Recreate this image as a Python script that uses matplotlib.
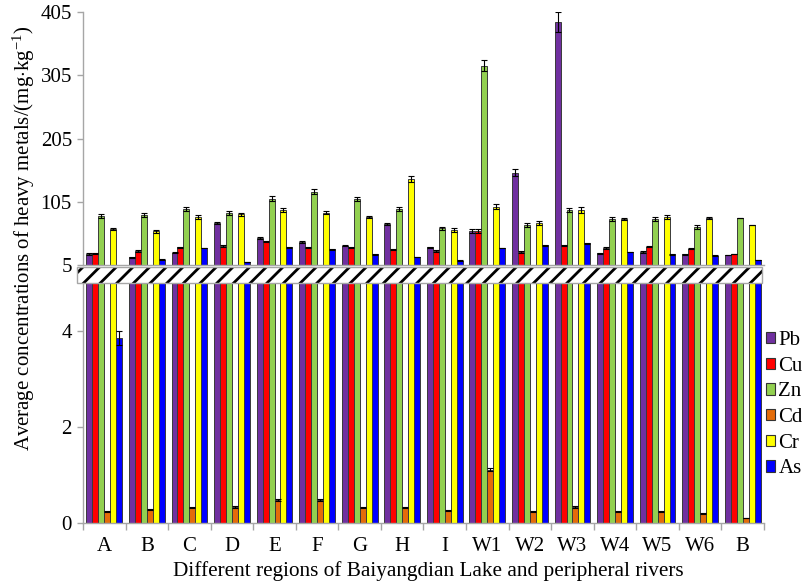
import matplotlib
matplotlib.use("Agg")
import matplotlib.pyplot as plt
from matplotlib.patches import Patch, Rectangle
import numpy as np

plt.rcParams['font.family'] = ['Liberation Serif', 'DejaVu Serif']
plt.rcParams['mathtext.fontset'] = 'custom'
plt.rcParams['mathtext.rm'] = 'Liberation Serif'
plt.rcParams['mathtext.it'] = 'Liberation Serif:italic'
plt.rcParams['hatch.linewidth'] = 2.0

categories = ["A", "B", "C", "D", "E", "F", "G", "H", "I",
              "W1", "W2", "W3", "W4", "W5", "W6", "B"]
metals = ["Pb", "Cu", "Zn", "Cd", "Cr", "As"]

Pb = [22.4, 17, 24.5, 72, 48, 42, 35.5, 70, 33, 59, 151, 389, 23.5, 25.5, 22, 21]
Cu = [23.5, 27, 33, 35, 42, 33, 33, 30, 27, 59, 25.5, 36, 32, 34, 31, 22]
Zn = [82, 84, 93, 87, 110, 121, 109, 93.5, 63, 320, 68, 92, 78, 78, 65.5, 79]
Cd = [0.23, 0.28, 0.32, 0.33, 0.47, 0.47, 0.32, 0.32, 0.25, 1.11, 0.23, 0.33, 0.24, 0.23, 0.20, 0.10]
Cr = [62, 58, 81, 85, 92, 88, 81, 141, 60, 97, 72, 92, 78, 81, 79, 69]
As = [3.85, 13.4, 32, 10, 33, 30, 22, 17.6, 12, 32, 36, 39, 25.5, 22, 19.7, 13.4]

Pb_err = [1, 1, 1, 1.5, 1.5, 1.5, 1, 1.5, 1, 3, 5, 16, 1, 1, 1, 0]
Cu_err = [1, 1, 1, 1, 1, 1, 1, 1, 1, 3, 1, 1, 1, 1, 1, 0]
Zn_err = [3, 3, 3, 3, 4, 4, 3, 3, 2, 9, 3, 3, 3, 3, 3, 0]
Cd_err = [0.01, 0.01, 0.01, 0.02, 0.02, 0.02, 0.01, 0.01, 0.01, 0.04, 0.01, 0.02, 0.01, 0.01, 0.01, 0.0]
Cr_err = [2, 2, 3, 2, 3, 2, 2, 4, 3, 4, 3, 4, 2, 3, 2, 0]
As_err = [0.15, 0.5, 0.5, 0.5, 0.5, 0.5, 0.5, 0.5, 0.5, 0.5, 0.5, 0.5, 0.5, 0.5, 0.5, 0]

values = [Pb, Cu, Zn, Cd, Cr, As]
errors = [Pb_err, Cu_err, Zn_err, Cd_err, Cr_err, As_err]
colors = ["#7030A0", "#FF0000", "#92D050", "#E46C0A", "#FFFF00", "#0000FF"]

W, H = 803, 585
fig = plt.figure(figsize=(W / 100, H / 100), dpi=100)

left, right = 83 / W, 764 / W
ax_top = fig.add_axes([left, 1 - 265 / H, right - left, (265 - 12) / H])
ax_bot = fig.add_axes([left, 1 - 522.7 / H, right - left, (522.7 - 283.2) / H])

n = len(categories)
x = np.arange(n)
bw = 0.14
edge = "#3a3a3a"
axis_gray = "#A6A6A6"

for i, (vals, errs, col) in enumerate(zip(values, errors, colors)):
    xs = x + (i - 2.5) * bw
    vals = np.array(vals, dtype=float)
    errs = np.array(errs, dtype=float)
    for ax in (ax_top, ax_bot):
        ax.bar(xs, vals, width=bw, color=col, edgecolor=edge, linewidth=0.7, zorder=2)
    hi = vals > 5
    ax_top.errorbar(xs[hi], vals[hi], yerr=errs[hi], fmt='none', ecolor='black',
                    elinewidth=0.8, capsize=2.2, capthick=0.8, zorder=3)
    lo = vals <= 5
    ax_bot.errorbar(xs[lo], vals[lo], yerr=errs[lo], fmt='none', ecolor='black',
                    elinewidth=0.8, capsize=2.2, capthick=0.8, zorder=3)

for ax in (ax_top, ax_bot):
    ax.set_xlim(-0.5, n - 0.5)
    for s in ("top", "right"):
        ax.spines[s].set_visible(False)
    for s in ("left", "bottom"):
        ax.spines[s].set_color(axis_gray)
        ax.spines[s].set_linewidth(1.0)
    ax.tick_params(axis='y', colors=axis_gray, labelcolor='black', labelsize=15,
                   length=4, width=1.0, direction='out', pad=4)

ax_top.set_ylim(5, 405)
ax_top.set_yticks([5, 105, 205, 305, 405])
ax_top.set_xticks([])

ax_bot.set_ylim(0, 5)
ax_bot.set_yticks([0, 2, 4])
ax_bot.set_xticks(np.arange(n + 1) - 0.5)
ax_bot.set_xticklabels([])
ax_bot.set_xticks(x, minor=True)
ax_bot.set_xticklabels(categories, minor=True)
ax_bot.tick_params(axis='x', which='major', colors=axis_gray, length=5, width=1.0, direction='out')
ax_bot.tick_params(axis='x', which='minor', length=0, labelsize=15, pad=10, labelcolor='black')

# break band
bx0, bx1 = 77 / W, 762 / W
by0, by1 = 1 - 283 / H, 1 - 267 / H
fig.patches.append(Rectangle((bx0, by0), bx1 - bx0, by1 - by0, transform=fig.transFigure,
                             facecolor='white', edgecolor='black', hatch='//', linewidth=0,
                             zorder=5))
fig.patches.append(Rectangle((bx0, by0), bx1 - bx0, by1 - by0, transform=fig.transFigure,
                             facecolor='none', edgecolor=axis_gray, linewidth=1.0, zorder=6))

fig.text(24 / W, 1 - 238 / H, r"Average concentrations of heavy metals/(mg$\cdot$kg$^{-1}$)",
         rotation=90, ha='center', va='center', fontsize=15)
fig.text(428 / W, 1 - 571 / H, "Different regions of Baiyangdian Lake and peripheral rivers",
         ha='center', va='center', fontsize=15.3)

handles = [Patch(facecolor=c, edgecolor='#333333', linewidth=0.8) for c in colors]
fig.legend(handles, metals, loc='upper left', bbox_to_anchor=(766 / W, 1 - 331 / H),
           frameon=False, fontsize=15, handlelength=0.45, handleheight=0.45,
           handletextpad=0.15, labelspacing=0.32, borderaxespad=0, borderpad=0)

fig.savefig("out.png", dpi=100)
